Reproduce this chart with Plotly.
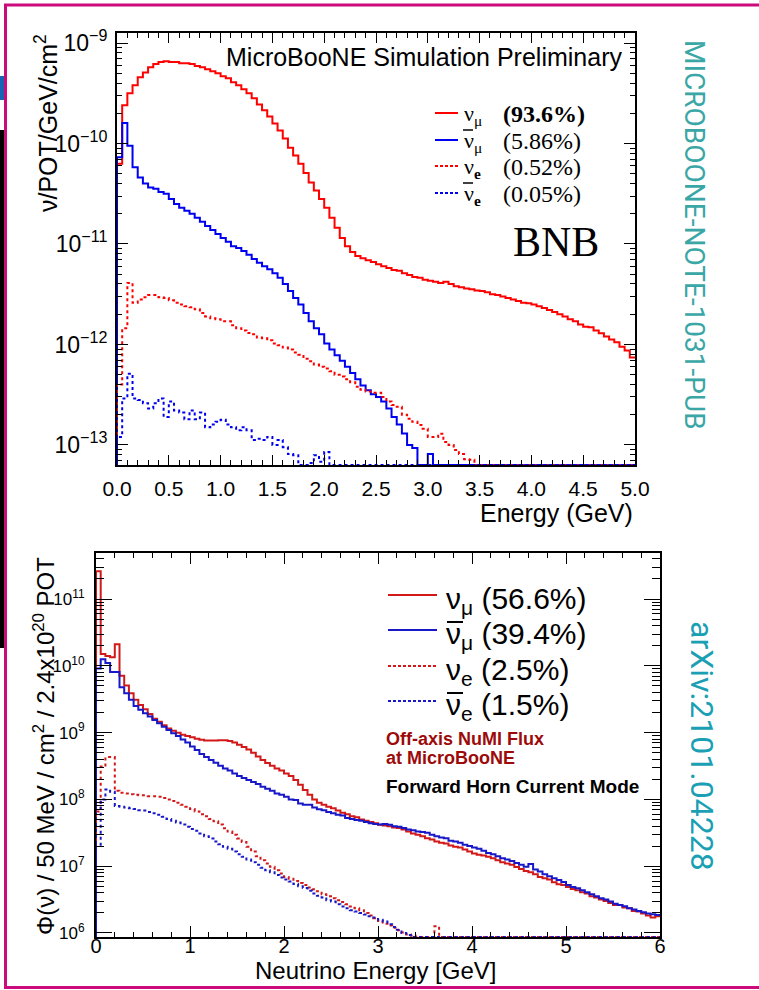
import numpy as np
import plotly.graph_objects as go

W, H = 759, 990


def px(x):
    return x / W


def py(y):
    return 1 - y / H


# ------------------------------------------------------------------ data
# BNB flux (top panel), 0.05 GeV bins from 0 to 5 GeV, nu/POT/GeV/cm^2
top_numu = [
    6.3e-11, 2.4e-10, 3.16e-10, 3.8e-10, 4.57e-10, 5.1e-10, 5.75e-10, 6.17e-10, 6.46e-10, 6.6e-10,
    6.46e-10, 6.46e-10, 6.3e-10, 6.3e-10, 6.17e-10, 5.9e-10, 5.75e-10, 5.5e-10, 5.25e-10, 5.0e-10,
    4.68e-10, 4.47e-10, 4.07e-10, 3.8e-10, 3.47e-10, 3.16e-10, 2.82e-10, 2.45e-10, 2.14e-10, 1.86e-10,
    1.58e-10, 1.35e-10, 1.12e-10, 9.1e-11, 7.6e-11, 6.3e-11, 5.1e-11, 4.1e-11, 3.4e-11, 2.8e-11,
    2.3e-11, 1.82e-11, 1.45e-11, 1.15e-11, 9.5e-12, 8.3e-12, 7.6e-12, 7.2e-12, 6.9e-12, 6.6e-12,
    6.3e-12, 6.0e-12, 5.75e-12, 5.5e-12, 5.4e-12, 5.1e-12, 4.9e-12, 4.7e-12, 4.6e-12, 4.4e-12,
    4.3e-12, 4.2e-12, 4.1e-12, 4.2e-12, 4.0e-12, 3.8e-12, 3.7e-12, 3.6e-12, 3.55e-12, 3.45e-12,
    3.4e-12, 3.3e-12, 3.16e-12, 3.1e-12, 3.0e-12, 2.9e-12, 2.8e-12, 2.7e-12, 2.6e-12, 2.57e-12,
    2.5e-12, 2.4e-12, 2.3e-12, 2.2e-12, 2.1e-12, 2.0e-12, 1.9e-12, 1.78e-12, 1.7e-12, 1.58e-12,
    1.5e-12, 1.48e-12, 1.38e-12, 1.29e-12, 1.2e-12, 1.12e-12, 1.05e-12, 9.5e-13, 8.7e-13, 7.4e-13,
]
top_numubar = [
    7.3e-11, 1.6e-10, 9.5e-11, 5.8e-11, 4.6e-11, 4.0e-11, 3.65e-11, 3.55e-11, 3.3e-11, 3.16e-11,
    2.8e-11, 2.5e-11, 2.3e-11, 2.14e-11, 2.0e-11, 1.82e-11, 1.66e-11, 1.51e-11, 1.38e-11, 1.26e-11,
    1.15e-11, 1.05e-11, 9.5e-12, 9.1e-12, 8.5e-12, 7.8e-12, 7.1e-12, 6.5e-12, 6.0e-12, 5.6e-12,
    5.1e-12, 4.6e-12, 4.0e-12, 3.4e-12, 2.9e-12, 2.5e-12, 2.05e-12, 1.7e-12, 1.45e-12, 1.26e-12,
    1.02e-12, 8.9e-13, 7.8e-13, 6.9e-13, 6.0e-13, 5.2e-13, 4.5e-13, 3.9e-13, 3.5e-13, 3.2e-13,
    3.0e-13, 2.7e-13, 2.3e-13, 1.9e-13, 1.6e-13, 1.3e-13, 1.0e-13, 9.3e-14, 0, 0,
    8.1e-14, 0, 0, 0, 0, 0, 0, 0, 0, 0,
    0, 0, 0, 0, 0, 0, 0, 0, 0, 0,
    0, 0, 0, 0, 0, 0, 0, 0, 0, 0,
    0, 0, 0, 0, 0, 0, 0, 0, 0, 0,
]
top_nue = [
    4.0e-13, 1.45e-12, 4.1e-12, 2.6e-12, 2.8e-12, 2.95e-12, 3.1e-12, 3.1e-12, 2.95e-12, 2.9e-12,
    2.75e-12, 2.6e-12, 2.5e-12, 2.4e-12, 2.35e-12, 2.24e-12, 2.05e-12, 1.9e-12, 1.82e-12, 1.78e-12,
    1.7e-12, 1.7e-12, 1.55e-12, 1.45e-12, 1.38e-12, 1.3e-12, 1.26e-12, 1.17e-12, 1.15e-12, 1.1e-12,
    1.02e-12, 9.8e-13, 9.3e-13, 8.9e-13, 8.3e-13, 7.9e-13, 7.2e-13, 6.8e-13, 6.3e-13, 6.0e-13,
    5.75e-13, 5.4e-13, 5.0e-13, 4.8e-13, 4.5e-13, 4.2e-13, 3.8e-13, 3.55e-13, 3.4e-13, 3.3e-13,
    3.3e-13, 3.0e-13, 2.7e-13, 2.5e-13, 2.4e-13, 2.0e-13, 1.82e-13, 1.7e-13, 1.58e-13, 1.45e-13,
    1.2e-13, 1.2e-13, 1.29e-13, 1.07e-13, 1.0e-13, 8.9e-14, 8.1e-14, 7.2e-14, 7.1e-14, 0,
    0, 0, 0, 0, 0, 0, 0, 0, 0, 0,
    0, 0, 0, 0, 0, 0, 0, 0, 0, 0,
    0, 0, 0, 0, 0, 0, 0, 0, 0, 0,
]
top_nuebar = [
    1.2e-13, 2.9e-13, 5.1e-13, 2.9e-13, 2.8e-13, 2.6e-13, 2.3e-13, 2.6e-13, 2.9e-13, 1.9e-13,
    2.7e-13, 2.2e-13, 2.1e-13, 1.8e-13, 2.2e-13, 1.8e-13, 2.1e-13, 1.5e-13, 1.6e-13, 1.7e-13,
    1.78e-13, 1.6e-13, 1.5e-13, 1.4e-13, 1.5e-13, 1.4e-13, 1.12e-13, 1.15e-13, 1.12e-13, 1.2e-13,
    1.0e-13, 1.12e-13, 9.5e-14, 8.1e-14, 7.9e-14, 0, 0, 6.6e-14, 7.9e-14, 6.8e-14,
    8.5e-14, 0, 0, 0, 0, 0, 0, 0, 0, 0,
    0, 0, 0, 0, 0, 0, 0, 0, 0, 0,
    0, 0, 0, 0, 0, 0, 0, 0, 0, 0,
    0, 0, 0, 0, 0, 0, 0, 0, 0, 0,
    0, 0, 0, 0, 0, 0, 0, 0, 0, 0,
    0, 0, 0, 0, 0, 0, 0, 0, 0, 0,
]

# Off-axis NuMI flux (bottom panel), 50 MeV bins from 0 to 6 GeV
bot_numu = [
    2.6e11, 1.5e10, 1.4e10, 1.35e10, 2.1e10, 7.1e9, 5.1e9, 3.9e9, 3.1e9, 2.6e9,
    2.24e9, 1.9e9, 1.62e9, 1.45e9, 1.29e9, 1.15e9, 1.07e9, 1.0e9, 9.3e8, 8.9e8,
    8.5e8, 8.1e8, 7.8e8, 7.6e8, 7.6e8, 7.6e8, 7.7e8, 7.7e8, 7.5e8, 7.1e8,
    6.6e8, 6.1e8, 5.6e8, 5.0e8, 4.4e8, 3.9e8, 3.5e8, 3.2e8, 2.9e8, 2.7e8,
    2.45e8, 2.24e8, 1.95e8, 1.66e8, 1.38e8, 1.17e8, 1.0e8, 8.9e7, 8.3e7, 7.8e7,
    7.4e7, 6.8e7, 6.3e7, 6.0e7, 5.6e7, 5.4e7, 5.0e7, 4.8e7, 4.6e7, 4.4e7,
    4.17e7, 4.07e7, 3.98e7, 3.80e7, 3.72e7, 3.55e7, 3.31e7, 3.09e7, 2.95e7, 2.82e7,
    2.63e7, 2.51e7, 2.34e7, 2.24e7, 2.19e7, 2.04e7, 1.95e7, 1.91e7, 1.78e7, 1.66e7,
    1.55e7, 1.48e7, 1.45e7, 1.38e7, 1.32e7, 1.23e7, 1.15e7, 1.10e7, 1.05e7, 9.77e6,
    9.12e6, 8.51e6, 8.13e6, 7.59e6, 6.92e6, 6.61e6, 6.31e6, 5.75e6, 5.37e6, 5.25e6,
    4.90e6, 4.57e6, 4.37e6, 4.07e6, 3.89e6, 3.55e6, 3.39e6, 3.16e6, 3.02e6, 2.82e6,
    2.63e6, 2.63e6, 2.40e6, 2.34e6, 2.14e6, 2.09e6, 1.95e6, 1.82e6, 1.70e6, 1.78e6,
]
bot_numubar = [
    9.1e9, 1.26e10, 1.1e10, 8.1e9, 8.1e9, 4.8e9, 3.9e9, 3.1e9, 2.5e9, 2.2e9,
    1.95e9, 1.74e9, 1.55e9, 1.38e9, 1.23e9, 1.1e9, 9.8e8, 8.9e8, 7.9e8, 7.1e8,
    6.2e8, 5.5e8, 4.8e8, 4.3e8, 3.9e8, 3.55e8, 3.2e8, 2.9e8, 2.7e8, 2.45e8,
    2.24e8, 2.1e8, 1.95e8, 1.82e8, 1.7e8, 1.55e8, 1.45e8, 1.35e8, 1.23e8, 1.17e8,
    1.1e8, 1.0e8, 9.8e7, 8.7e7, 8.3e7, 8.3e7, 7.6e7, 7.1e7, 6.9e7, 6.5e7,
    6.2e7, 5.9e7, 5.75e7, 5.25e7, 5.1e7, 4.9e7, 4.8e7, 4.6e7, 4.4e7, 4.3e7,
    4.2e7, 4.27e7, 4.17e7, 3.98e7, 3.89e7, 3.72e7, 3.55e7, 3.47e7, 3.31e7, 3.24e7,
    3.16e7, 2.95e7, 2.82e7, 2.69e7, 2.63e7, 2.40e7, 2.34e7, 2.24e7, 2.09e7, 2.0e7,
    1.91e7, 1.82e7, 1.70e7, 1.58e7, 1.51e7, 1.41e7, 1.32e7, 1.26e7, 1.20e7, 1.12e7,
    1.05e7, 9.8e6, 1.08e7, 8.9e6, 8.3e6, 7.6e6, 7.1e6, 6.6e6, 6.2e6, 5.8e6,
    5.25e6, 4.90e6, 4.68e6, 4.37e6, 4.07e6, 3.80e6, 3.55e6, 3.31e6, 3.16e6, 2.95e6,
    2.75e6, 2.63e6, 2.51e6, 2.34e6, 2.24e6, 2.14e6, 2.04e6, 1.95e6, 1.91e6, 1.86e6,
]
bot_nue = [
    6.6e7, 3.1e8, 4.3e8, 4.3e8, 1.35e8, 1.26e8, 1.23e8, 1.2e8, 1.17e8, 1.15e8,
    1.15e8, 1.12e8, 1.12e8, 1.1e8, 1.05e8, 1.0e8, 9.5e7, 8.9e7, 8.3e7, 7.8e7,
    7.2e7, 6.6e7, 6.0e7, 5.6e7, 5.1e7, 4.7e7, 4.2e7, 3.7e7, 3.3e7, 2.95e7,
    2.6e7, 2.3e7, 1.95e7, 1.66e7, 1.41e7, 1.23e7, 1.1e7, 9.8e6, 8.7e6, 7.8e6,
    6.9e6, 6.5e6, 6.0e6, 5.6e6, 5.25e6, 4.8e6, 4.5e6, 4.2e6, 3.8e6, 3.55e6,
    3.3e6, 3.1e6, 2.9e6, 2.7e6, 2.5e6, 2.34e6, 2.2e6, 2.0e6, 1.82e6, 1.66e6,
    1.51e6, 1.38e6, 1.29e6, 1.2e6, 1.1e6, 1.02e6, 9.5e5, 9.1e5, 0, 0,
    0, 0, 1.26e6, 0, 0, 0, 0, 0, 0, 0,
    0, 0, 0, 0, 0, 0, 0, 0, 0, 0,
    0, 0, 0, 0, 0, 0, 0, 0, 0, 0,
    0, 0, 0, 0, 0, 0, 0, 0, 0, 0,
    0, 0, 0, 0, 0, 0, 0, 0, 0, 0,
]
bot_nuebar = [
    2.1e7, 1.0e8, 1.41e8, 1.3e8, 8.0e7, 7.8e7, 7.6e7, 7.4e7, 7.2e7, 6.9e7,
    6.8e7, 6.5e7, 6.2e7, 5.9e7, 5.5e7, 5.1e7, 4.8e7, 4.5e7, 4.2e7, 3.9e7,
    3.6e7, 3.4e7, 3.1e7, 2.8e7, 2.6e7, 2.34e7, 2.14e7, 1.95e7, 1.82e7, 1.66e7,
    1.51e7, 1.38e7, 1.26e7, 1.15e7, 1.05e7, 9.5e6, 8.7e6, 8.1e6, 7.4e6, 6.8e6,
    6.3e6, 5.9e6, 5.4e6, 5.0e6, 4.7e6, 4.3e6, 3.9e6, 3.6e6, 3.4e6, 3.1e6,
    2.95e6, 2.7e6, 2.5e6, 2.34e6, 2.2e6, 2.1e6, 2.0e6, 1.9e6, 1.78e6, 1.7e6,
    1.58e6, 1.48e6, 1.35e6, 1.23e6, 1.12e6, 1.0e6, 9.3e5, 0, 0, 0,
    0, 0, 0, 0, 0, 0, 0, 0, 0, 0,
    0, 0, 0, 0, 0, 0, 0, 0, 0, 0,
    0, 0, 0, 0, 0, 0, 0, 0, 0, 0,
    0, 0, 0, 0, 0, 0, 0, 0, 0, 0,
    0, 0, 0, 0, 0, 0, 0, 0, 0, 0,
]

top_labels = ["\u03bd<sub>\u03bc</sub>", "\u03bd<sub>\u03bc</sub>",
              "\u03bd<sub><b>e</b></sub>", "\u03bd<sub><b>e</b></sub>"]
top_is_anti = [False, True, False, True]
top_fracs = ["<b>(93.6%)</b>", "(5.86%)", "(0.52%)", "(0.05%)"]
bot_labels = ["\u03bd<sub>\u03bc</sub> (56.6%)", "\u03bd<sub>\u03bc</sub> (39.4%)",
              "\u03bd<sub>e</sub> (2.5%)", "\u03bd<sub>e</sub> (1.5%)"]
bot_is_anti = [False, True, False, True]

top_xticks = [0.0, 0.5, 1.0, 1.5, 2.0, 2.5, 3.0, 3.5, 4.0, 4.5, 5.0]
top_yticks = [1e-13, 1e-12, 1e-11, 1e-10, 1e-9]
top_yticktext = ["10<sup>\u221213</sup>", "10<sup>\u221212</sup>", "10<sup>\u221211</sup>",
                 "10<sup>\u221210</sup>", "10<sup>\u22129</sup>"]
bot_xticks = [0, 1, 2, 3, 4, 5, 6]
bot_yticks = [1e6, 1e7, 1e8, 1e9, 1e10, 1e11]
bot_yticktext = ["10<sup>6</sup>", "10<sup>7</sup>", "10<sup>8</sup>", "10<sup>9</sup>",
                 "10<sup>10</sup>", "10<sup>11</sup>"]

# ------------------------------------------------------------------ styles
SANS = "Liberation Sans, Arial, sans-serif"
SERIF = "Liberation Serif, Times New Roman, serif"
TOP_RED, TOP_BLUE = "#ff0000", "#0000f0"
BOT_RED, BOT_BLUE = "#d21818", "#1818c8"

TOP_RANGE = [-13.2, -8.9]
BOT_RANGE = [5.94, 11.69]
TOP_FLOOR = 10 ** TOP_RANGE[0]
BOT_FLOOR = 10 ** BOT_RANGE[0]

top_edges = np.round(np.arange(len(top_numu) + 1) * 0.05, 4)
bot_edges = np.round(np.arange(len(bot_numu) + 1) * 0.05, 4)


def step_xy(edges, vals, floor):
    v = [a if a > 0 else floor for a in vals]
    xs = [edges[0]] + list(edges[:-1]) + [edges[-1]]
    ys = [floor] + v + [v[-1]]
    return xs, ys


fig = go.Figure()

top_series = [(top_numu, TOP_RED, "solid"), (top_numubar, TOP_BLUE, "solid"),
              (top_nue, TOP_RED, "3px,3px"), (top_nuebar, TOP_BLUE, "3px,3px")]
for vals, col, dash in top_series:
    xs, ys = step_xy(top_edges, vals, TOP_FLOOR)
    fig.add_trace(go.Scatter(x=xs, y=ys, mode="lines", line_shape="hv",
                             line=dict(color=col, width=2, dash=dash),
                             xaxis="x", yaxis="y", showlegend=False, hoverinfo="skip"))

bot_series = [(bot_numu, BOT_RED, "solid"), (bot_numubar, BOT_BLUE, "solid"),
              (bot_nue, BOT_RED, "3px,3px"), (bot_nuebar, BOT_BLUE, "3px,3px")]
for vals, col, dash in bot_series:
    xs, ys = step_xy(bot_edges, vals, BOT_FLOOR)
    fig.add_trace(go.Scatter(x=xs, y=ys, mode="lines", line_shape="hv",
                             line=dict(color=col, width=2, dash=dash),
                             xaxis="x2", yaxis="y2", showlegend=False, hoverinfo="skip"))


def minor_log(lo, hi):
    return [k * 10.0 ** n for n in range(lo, hi) for k in range(2, 10)]


axis_common = dict(showgrid=False, zeroline=False, showline=True, mirror="ticks",
                   ticks="inside", tickcolor="black", linecolor="black",
                   automargin=False)

fig.update_layout(
    width=W, height=H, autosize=False,
    margin=dict(l=0, r=0, t=0, b=0, pad=0, autoexpand=False),
    paper_bgcolor="white", plot_bgcolor="white", showlegend=False,
    xaxis=dict(domain=[px(117), px(635)], range=[0, 5], anchor="y",
               tickvals=top_xticks, tickformat=".1f", ticklen=10, tickwidth=1,
               linewidth=2, ticklabelstandoff=4,
               tickfont=dict(family=SANS, size=21, color="black"),
               minor=dict(ticks="inside", ticklen=5, dtick=0.1, tickcolor="black"),
               **axis_common),
    yaxis=dict(domain=[py(465), py(33)], type="log", range=TOP_RANGE, anchor="x",
               tickvals=top_yticks, ticktext=top_yticktext, ticklen=11, tickwidth=1,
               linewidth=2, ticklabelstandoff=3,
               tickfont=dict(family=SANS, size=23, color="black"),
               minor=dict(ticks="inside", ticklen=5, tickvals=minor_log(-14, -8),
                          tickcolor="black"),
               **axis_common),
    xaxis2=dict(domain=[px(96), px(660)], range=[0, 6], anchor="y2",
                tickvals=bot_xticks, ticklen=11, tickwidth=1, linewidth=2,
                ticklabelstandoff=-10,
                tickfont=dict(family=SANS, size=20, color="black"),
                minor=dict(ticks="inside", ticklen=5, dtick=0.2, tickcolor="black"),
                **axis_common),
    yaxis2=dict(domain=[py(937), py(553)], type="log", range=BOT_RANGE, anchor="x2",
                tickvals=bot_yticks, ticktext=bot_yticktext, ticklen=16, tickwidth=1,
                linewidth=2, ticklabelstandoff=6,
                tickfont=dict(family=SANS, size=17, color="black"),
                minor=dict(ticks="inside", ticklen=8, tickvals=minor_log(5, 12),
                           tickcolor="black"),
                **axis_common),
)

ann = []


def text(x, y, s, size, family=SANS, color="black", xanchor="center",
         yanchor="middle", angle=0):
    ann.append(dict(x=px(x), y=py(y), xref="paper", yref="paper", text=s,
                    showarrow=False, xanchor=xanchor, yanchor=yanchor,
                    textangle=angle, font=dict(family=family, size=size, color=color)))


# top panel texts
text(424, 57, "MicroBooNE Simulation Preliminary", 25)
text(635, 513, "Energy (GeV)", 25, xanchor="right")
text(46, 123, "\u03bd/POT/GeV/cm<sup>2</sup>", 25, angle=-90)
text(556, 242, "BNB", 42, family=SERIF)
top_leg_y = [113, 140, 166, 193]
for yy, lab, frac in zip(top_leg_y, top_labels, top_fracs):
    text(462, yy + 2, lab, 22, family=SERIF, xanchor="left")
    text(501, yy + 1, frac, 24, family=SERIF, xanchor="left")

# bottom panel texts
text(498, 970, "Neutrino Energy [GeV]", 24, xanchor="right")
text(44, 746, "\u03a6(\u03bd) / 50 MeV / cm<sup>2</sup> / 2.4x10<sup>20</sup> POT", 24,
     angle=-90)
bot_leg_y = [597, 632, 668, 703]
for yy, lab in zip(bot_leg_y, bot_labels):
    text(444, yy + 3, lab, 30, xanchor="left")
text(384, 739, "<b>Off-axis NuMI Flux</b>", 18, color="#9c0a0a", xanchor="left")
text(384, 758, "<b>at MicroBooNE</b>", 18, color="#9c0a0a", xanchor="left")
text(384, 786, "<b>Forward Horn Current Mode</b>", 19, xanchor="left")

# side labels
text(694, 235, "MICROBOONE-NOTE-1031-PUB", 28, family="Roboto", color="#3aa6a6",
     angle=90)
text(702, 746, "arXiv:2101.04228", 32, family="Roboto", color="#1a9fb4", angle=90)

fig.update_layout(annotations=ann)

shapes = []


def line(x0, y0, x1, y1, color, width, dash="solid"):
    shapes.append(dict(type="line", xref="paper", yref="paper", x0=px(x0), y0=py(y0),
                       x1=px(x1), y1=py(y1), line=dict(color=color, width=width, dash=dash)))


# legend line samples and antineutrino bars
for yy, col, dash, anti in zip(top_leg_y, [TOP_RED, TOP_BLUE, TOP_RED, TOP_BLUE],
                               ["solid", "solid", "3px,2px", "3px,2px"], top_is_anti):
    line(435, yy, 458, yy, col, 2, dash)
    if anti:
        line(463, yy - 10, 473, yy - 10, "black", 1.5)
for yy, col, dash, anti in zip(bot_leg_y, [BOT_RED, BOT_BLUE, BOT_RED, BOT_BLUE],
                               ["solid", "solid", "3px,2px", "3px,2px"], bot_is_anti):
    line(388, yy - 2, 437, yy - 2, col, 2, dash)
    if anti:
        line(447, yy - 10, 463, yy - 10, "black", 2)

# slide frame
MAG = "#cc0a7c"
line(4, 5, 759, 5, MAG, 3)
line(5.5, 4, 5.5, 989, MAG, 3)
line(4, 987.5, 759, 987.5, MAG, 3)
shapes.append(dict(type="rect", xref="paper", yref="paper", x0=0, x1=px(4),
                   y0=py(648), y1=py(130), fillcolor="black", line=dict(width=0)))
shapes.append(dict(type="rect", xref="paper", yref="paper", x0=0, x1=px(4),
                   y0=py(100), y1=py(76), fillcolor="#1565b0", line=dict(width=0)))

fig.update_layout(shapes=shapes)

fig.write_html("out.html", config={"responsive": False})
